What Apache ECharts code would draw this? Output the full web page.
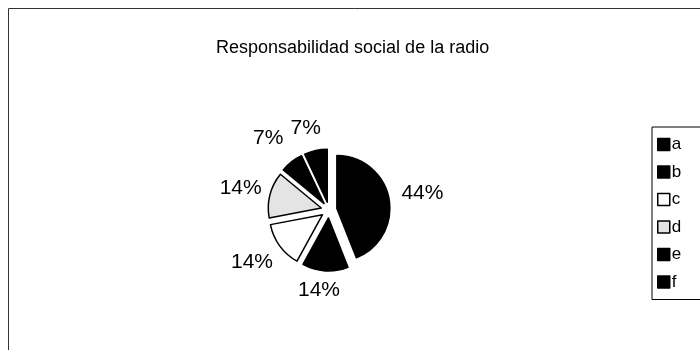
<!DOCTYPE html>
<html>
<head>
<meta charset="utf-8">
<script src="https://cdn.jsdelivr.net/npm/echarts@6/dist/echarts.min.js"></script>
<style>html,body{margin:0;padding:0;background:#fff}#c{width:700px;height:350px}</style>
</head>
<body>
<div id="c"></div>
<script>
var titleText = 'Responsabilidad social de la radio';
var categories = ['a', 'b', 'c', 'd', 'e', 'f'];
var values = [44, 14, 14, 14, 7, 7];
var fills = ['#000000', '#000000', '#ffffff', '#e4e4e4', '#000000', '#000000'];
var labelGaps = [29, 19, 28, 25, 30, 23];

var chart = echarts.init(document.getElementById('c'), null, {renderer: 'canvas'});
var data = categories.map(function (c, i) {
  return {
    name: c, value: values[i], selected: true,
    itemStyle: {color: fills[i]},
    labelLine: {show: false, length: labelGaps[i], length2: 0}
  };
});
chart.setOption({
  animation: false,
  backgroundColor: '#fff',
  title: {
    text: titleText, left: 211, top: 34,
    textStyle: {fontFamily: 'Liberation Sans, Arial', fontSize: 18, fontWeight: 'normal', color: '#000'}
  },
  graphic: [{
    type: 'rect', shape: {x: 8.5, y: 8.5, width: 760, height: 400},
    style: {fill: 'none', stroke: '#333', lineWidth: 1}, silent: true, z: -1
  }],
  legend: {
    orient: 'vertical', left: 652, top: 127,
    data: categories,
    itemWidth: 12, itemHeight: 12, itemGap: 10.5,
    padding: [9, 60, 9, 5],
    borderColor: '#000', borderWidth: 1,
    icon: 'rect',
    itemStyle: {borderColor: '#000', borderWidth: 1.5},
    textStyle: {fontFamily: 'Liberation Sans, Arial', fontSize: 17, color: '#000', padding: [0, 0, 0, -3]},
    selectedMode: false
  },
  series: [{
    type: 'pie',
    center: [329, 210],
    radius: [0, 53],
    startAngle: 90,
    clockwise: true,
    selectedMode: 'multiple',
    selectedOffset: 8,
    avoidLabelOverlap: false,
    itemStyle: {borderColor: '#000', borderWidth: 1.5},
    label: {
      show: true, position: 'outside',
      formatter: function (p) { return Math.round(p.percent) + '%'; },
      fontFamily: 'Liberation Sans, Arial', fontSize: 21, color: '#000'
    },
    labelLayout: function () { return {align: 'center', verticalAlign: 'middle', hideOverlap: false}; },
    labelLine: {show: false},
    emphasis: {disabled: true},
    data: data
  }]
});
</script>
</body>
</html>
